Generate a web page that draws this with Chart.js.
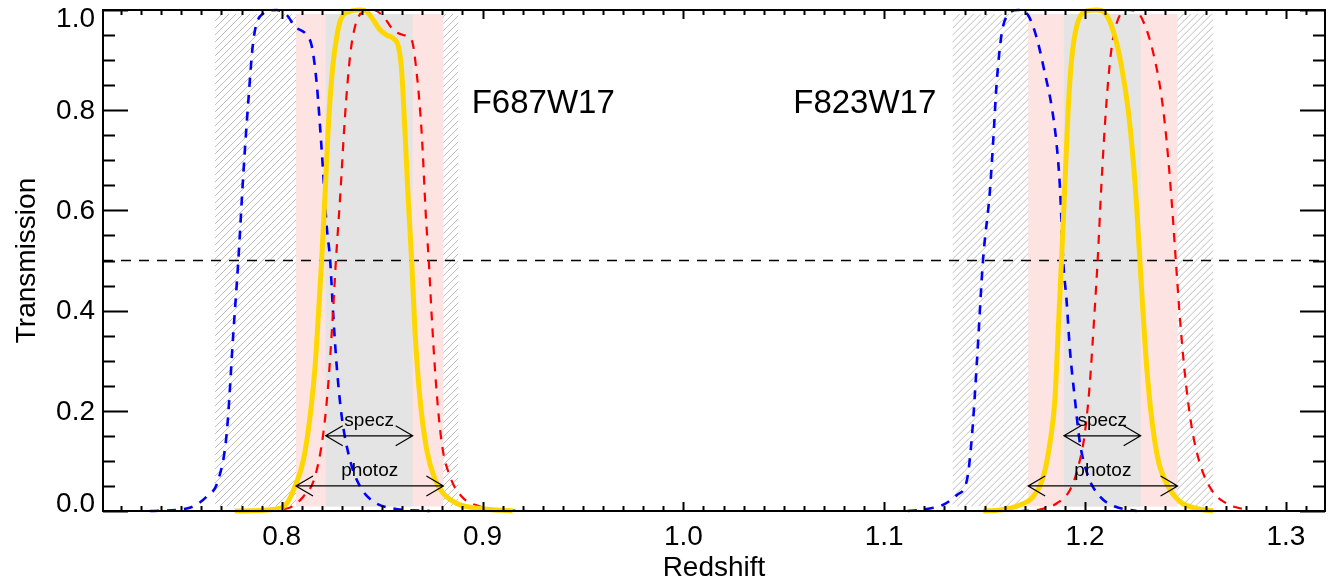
<!DOCTYPE html>
<html>
<head>
<meta charset="utf-8">
<script src="https://cdn.jsdelivr.net/npm/chart.js@4/dist/chart.umd.min.js"></script>
<style>
  html, body { margin: 0; padding: 0; background: #ffffff; }
  #wrap { width: 1328px; height: 582px; }
</style>
</head>
<body>
<div id="wrap"><canvas id="c" width="1328" height="582"></canvas></div>
<script>
// ---------------- data ----------------
const xRange = [0.711, 1.3195];
const yRange = [0.0, 1.0];
const halfLevel = 0.5;

// F687W17 group
const zBlueA = [0.7344, 0.7527, 0.7627, 0.7684, 0.7726, 0.7759, 0.7784, 0.7809, 0.7834, 0.7859, 0.7908, 0.7975, 0.8025, 0.8066, 0.8124, 0.8150, 0.8174, 0.8199, 0.8224, 0.8241, 0.8257, 0.8274, 0.8299, 0.8340, 0.8390, 0.8456, 0.8556, 0.8738];
const tBlueA = [0.000, 0.005, 0.029, 0.062, 0.155, 0.355, 0.501, 0.674, 0.820, 0.940, 0.993, 1.000, 0.990, 0.967, 0.950, 0.927, 0.854, 0.720, 0.568, 0.501, 0.388, 0.288, 0.188, 0.102, 0.049, 0.019, 0.005, 0.000];

const zRedA = [0.7842, 0.8025, 0.8108, 0.8166, 0.8207, 0.8232, 0.8254, 0.8270, 0.8290, 0.8315, 0.8340, 0.8365, 0.8406, 0.8456, 0.8506, 0.8556, 0.8605, 0.8647, 0.8672, 0.8697, 0.8718, 0.8732, 0.8747, 0.8768, 0.8797, 0.8838, 0.8896, 0.8987, 0.9120, 0.9226];
const tRedA = [0.000, 0.005, 0.029, 0.069, 0.155, 0.255, 0.388, 0.501, 0.621, 0.787, 0.907, 0.967, 0.997, 1.000, 0.987, 0.960, 0.950, 0.940, 0.874, 0.754, 0.587, 0.501, 0.388, 0.255, 0.135, 0.069, 0.029, 0.009, 0.002, 0.000];

const zGoldA = [0.7767, 0.7958, 0.8025, 0.8066, 0.8108, 0.8141, 0.8166, 0.8182, 0.8199, 0.8216, 0.8232, 0.8254, 0.8274, 0.8296, 0.8340, 0.8390, 0.8423, 0.8456, 0.8490, 0.8523, 0.8556, 0.8581, 0.8597, 0.8614, 0.8630, 0.8647, 0.8664, 0.8689, 0.8722, 0.8764, 0.8805, 0.8872, 0.8987, 0.9150];
const tGoldA = [0.000, 0.003, 0.015, 0.049, 0.102, 0.188, 0.288, 0.388, 0.501, 0.634, 0.767, 0.887, 0.947, 0.983, 0.997, 1.000, 0.997, 0.980, 0.960, 0.950, 0.943, 0.927, 0.880, 0.754, 0.621, 0.501, 0.355, 0.222, 0.122, 0.062, 0.035, 0.015, 0.005, 0.000];

// F823W17 group
const zBlueB = [1.1118, 1.1213, 1.1292, 1.1362, 1.1412, 1.1437, 1.1462, 1.1492, 1.1526, 1.1543, 1.1560, 1.1585, 1.1610, 1.1666, 1.1716, 1.1759, 1.1800, 1.1834, 1.1858, 1.1875, 1.1891, 1.1908, 1.1925, 1.1950, 1.1975, 1.2016, 1.2074, 1.2149, 1.2257];
const tBlueB = [0.000, 0.004, 0.012, 0.032, 0.062, 0.150, 0.300, 0.500, 0.637, 0.740, 0.854, 0.953, 0.987, 1.000, 0.990, 0.945, 0.874, 0.807, 0.734, 0.647, 0.501, 0.421, 0.321, 0.222, 0.135, 0.069, 0.029, 0.009, 0.000];

const zRedB = [1.1676, 1.1775, 1.1858, 1.1925, 1.1966, 1.1999, 1.2024, 1.2046, 1.2063, 1.2082, 1.2104, 1.2129, 1.2157, 1.2207, 1.2257, 1.2307, 1.2348, 1.2381, 1.2406, 1.2431, 1.2452, 1.2472, 1.2497, 1.2531, 1.2572, 1.2630, 1.2705, 1.2804];
const tRedB = [0.000, 0.003, 0.015, 0.042, 0.088, 0.155, 0.255, 0.388, 0.501, 0.654, 0.800, 0.914, 0.973, 1.000, 0.997, 0.960, 0.900, 0.827, 0.740, 0.621, 0.501, 0.388, 0.275, 0.168, 0.095, 0.042, 0.015, 0.002];

const zGoldB = [1.1493, 1.1576, 1.1676, 1.1742, 1.1792, 1.1825, 1.1850, 1.1866, 1.1883, 1.1900, 1.1916, 1.1933, 1.1958, 1.1999, 1.2058, 1.2107, 1.2149, 1.2182, 1.2215, 1.2240, 1.2257, 1.2273, 1.2290, 1.2307, 1.2331, 1.2364, 1.2414, 1.2472, 1.2555, 1.2638];
const tGoldB = [0.000, 0.002, 0.012, 0.029, 0.068, 0.135, 0.222, 0.355, 0.501, 0.654, 0.800, 0.900, 0.967, 0.997, 1.000, 0.990, 0.947, 0.887, 0.800, 0.700, 0.607, 0.501, 0.388, 0.288, 0.188, 0.102, 0.049, 0.019, 0.005, 0.000];

// shaded redshift windows (one entry per filter)
const filterNames = ['F687W17', 'F823W17'];
const filterLabelZ = [0.8946, 1.0547];
const filterLabelT = 0.794;
const hatchLo = [0.7668, 1.1341];
const hatchHi = [0.8879, 1.2638];
const photoLo = [0.8071, 1.1717];
const photoHi = [0.8805, 1.2461];
const speczLo = [0.8219, 1.1895];
const speczHi = [0.8652, 1.2277];
const bandBottom = 0.009;
const bandTop = 0.992;
const speczArrowT = 0.15;
const photoArrowT = 0.05;
const arrowTexts = ['specz', 'photoz'];

const xTickLabels = ['0.8', '0.9', '1.0', '1.1', '1.2', '1.3'];
const yTickLabels = ['0.0', '0.2', '0.4', '0.6', '0.8', '1.0'];

// ---------------- chart ----------------
const FONT = "'Liberation Sans', Arial, Helvetica, sans-serif";
const pts = (zs, ts) => zs.map((z, i) => ({ x: z, y: ts[i] }));

const overlay = {
  id: 'overlay',
  beforeDatasetsDraw(chart) {
    const { ctx, scales: { x, y } } = chart;
    const yt = y.getPixelForValue(bandTop), yb = y.getPixelForValue(bandBottom);
    ctx.save();
    for (let i = 0; i < hatchLo.length; i++) {
      const x0 = x.getPixelForValue(hatchLo[i]), x1 = x.getPixelForValue(hatchHi[i]);
      ctx.save();
      ctx.beginPath(); ctx.rect(x0, yt, x1 - x0, yb - yt); ctx.clip();
      ctx.strokeStyle = '#bdbdbd'; ctx.lineWidth = 1;
      ctx.beginPath();
      const h = yb - yt;
      for (let s = x0 - h; s < x1 + 7; s += 7) { ctx.moveTo(s, yb); ctx.lineTo(s + h, yt); }
      ctx.stroke();
      ctx.restore();
      const p0 = x.getPixelForValue(photoLo[i]), p1 = x.getPixelForValue(photoHi[i]);
      ctx.fillStyle = '#fde3e1';
      ctx.fillRect(p0, yt, p1 - p0, yb - yt);
      const s0 = x.getPixelForValue(speczLo[i]), s1 = x.getPixelForValue(speczHi[i]);
      ctx.fillStyle = '#e4e4e4';
      ctx.fillRect(s0, yt, s1 - s0, yb - yt);
    }
    ctx.restore();
  },
  afterDatasetsDraw(chart) {
    const { ctx, scales: { x, y } } = chart;
    ctx.save();
    ctx.strokeStyle = '#000'; ctx.fillStyle = '#000'; ctx.lineWidth = 1.2;
    const arrow = (za, zb, t, label) => {
      const xa = x.getPixelForValue(za), xb = x.getPixelForValue(zb), py = y.getPixelForValue(t);
      ctx.beginPath();
      ctx.moveTo(xa, py); ctx.lineTo(xb, py);
      ctx.moveTo(xa + 17, py - 10); ctx.lineTo(xa, py); ctx.lineTo(xa + 17, py + 10);
      ctx.moveTo(xb - 17, py - 10); ctx.lineTo(xb, py); ctx.lineTo(xb - 17, py + 10);
      ctx.stroke();
      ctx.font = '19px ' + FONT; ctx.textAlign = 'center'; ctx.textBaseline = 'alphabetic';
      ctx.fillText(label, (xa + xb) / 2, py - 10);
    };
    for (let i = 0; i < speczLo.length; i++) {
      arrow(speczLo[i], speczHi[i], speczArrowT, arrowTexts[0]);
      arrow(photoLo[i], photoHi[i], photoArrowT, arrowTexts[1]);
    }
    ctx.font = '33px ' + FONT; ctx.textAlign = 'left'; ctx.textBaseline = 'alphabetic';
    for (let i = 0; i < filterNames.length; i++) {
      ctx.fillText(filterNames[i], x.getPixelForValue(filterLabelZ[i]), y.getPixelForValue(filterLabelT));
    }
    ctx.restore();
  },
  afterDraw(chart) {
    const { ctx, chartArea: a, scales: { x, y } } = chart;
    ctx.save();
    ctx.strokeStyle = '#000'; ctx.lineWidth = 2;
    ctx.strokeRect(a.left, a.top, a.right - a.left, a.bottom - a.top);
    ctx.beginPath();
    // x ticks (inward, top and bottom)
    const i0 = Math.ceil(x.min * 100 - 1e-6), i1 = Math.floor(x.max * 100 + 1e-6);
    for (let i = i0; i <= i1; i++) {
      const px = Math.round(x.getPixelForValue(i / 100)) + 0.5;
      const len = (i % 10 === 0) ? 9 : 5;
      ctx.moveTo(px, a.bottom); ctx.lineTo(px, a.bottom - len);
      ctx.moveTo(px, a.top); ctx.lineTo(px, a.top + len);
    }
    // y ticks (inward, left and right)
    for (let j = 0; j <= 20; j++) {
      const v = j * 0.05;
      const py = Math.round(y.getPixelForValue(v)) + 0.5;
      const len = (j % 4 === 0) ? 25 : 12;
      ctx.moveTo(a.left, py); ctx.lineTo(a.left + len, py);
      ctx.moveTo(a.right, py); ctx.lineTo(a.right - len, py);
    }
    ctx.stroke();
    // y tick labels
    ctx.fillStyle = '#000'; ctx.font = '28px ' + FONT;
    ctx.textAlign = 'right'; ctx.textBaseline = 'middle';
    y.ticks.forEach((tk, k) => {
      let py = y.getPixelForValue(tk.value);
      py = Math.min(Math.max(py, a.top + 8), a.bottom - 8);
      ctx.fillText(yTickLabels[k] !== undefined ? yTickLabels[k] : tk.value.toFixed(1), a.left - 8, py + 1);
    });
    ctx.restore();
  }
};

Chart.defaults.color = '#000';
Chart.defaults.font.family = FONT;

const blueStyle = { borderColor: '#0000ff', borderWidth: 2.6, borderDash: [9, 8], order: 3, clip: 8 };
const redStyle = { borderColor: '#ff0000', borderWidth: 2.2, borderDash: [9, 8], order: 2, clip: 8 };
const goldStyle = { borderColor: '#ffd700', borderWidth: 5, order: 1, clip: 8 };

new Chart(document.getElementById('c'), {
  type: 'line',
  data: {
    datasets: [
      { data: [{ x: xRange[0], y: halfLevel }, { x: xRange[1], y: halfLevel }], borderColor: '#000', borderWidth: 1.5, borderDash: [10, 8], order: 10 },
      Object.assign({ data: pts(zBlueA, tBlueA) }, blueStyle),
      Object.assign({ data: pts(zBlueB, tBlueB) }, blueStyle),
      Object.assign({ data: pts(zRedA, tRedA) }, redStyle),
      Object.assign({ data: pts(zRedB, tRedB) }, redStyle),
      Object.assign({ data: pts(zGoldA, tGoldA) }, goldStyle),
      Object.assign({ data: pts(zGoldB, tGoldB) }, goldStyle)
    ]
  },
  options: {
    responsive: false,
    animation: false,
    events: [],
    layout: { padding: { left: 0, right: 3, top: 10, bottom: 0 } },
    elements: { point: { radius: 0 }, line: { cubicInterpolationMode: 'monotone', fill: false } },
    plugins: { legend: { display: false }, tooltip: { enabled: false } },
    scales: {
      x: {
        type: 'linear', min: xRange[0], max: xRange[1],
        grid: { display: false, drawTicks: false }, border: { display: false },
        ticks: { stepSize: 0.1, includeBounds: false, maxRotation: 0, autoSkip: false,
                 padding: 9, color: '#000', font: { size: 28, family: FONT },
                 callback: (v) => { const s = v.toFixed(1); return xTickLabels.includes(s) ? s : ''; } },
        title: { display: true, text: 'Redshift', color: '#000', font: { size: 28, family: FONT, lineHeight: 1 }, padding: 0 },
        afterFit: (s) => { s.height = 71; }
      },
      y: {
        min: yRange[0], max: yRange[1],
        grid: { display: false, drawTicks: false }, border: { display: false },
        ticks: { stepSize: 0.2, display: false },
        title: { display: true, text: 'Transmission', color: '#000', font: { size: 28, family: FONT, lineHeight: 1.2 }, padding: { top: 10, bottom: 0 } },
        afterFit: (s) => { s.width = 103; }
      }
    }
  },
  plugins: [overlay]
});
</script>
</body>
</html>
